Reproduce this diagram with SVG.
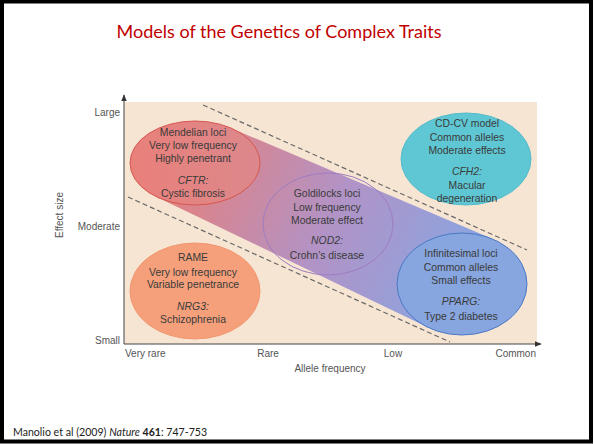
<svg xmlns="http://www.w3.org/2000/svg" width="594" height="444" viewBox="0 0 594 444">
<defs>
<style>
.t{font-family:"Liberation Sans",Arial,sans-serif;font-size:10.4px;fill:#3a3a3a;text-anchor:middle}
.ax{font-family:"Liberation Sans",Arial,sans-serif;font-size:10px;fill:#555}
.i{font-style:italic}
.dash{stroke:#6a6a6a;stroke-width:1.2;stroke-dasharray:5 3;fill:none}
.axis{stroke:#444;stroke-width:1;fill:none}
</style>
<linearGradient id="band" gradientUnits="userSpaceOnUse" x1="195" y1="163" x2="462" y2="284">
<stop offset="0" stop-color="#df8284"/>
<stop offset="0.5" stop-color="#b293c6"/>
<stop offset="1" stop-color="#8aa4e0"/>
</linearGradient>
<linearGradient id="mend" x1="0" y1="0" x2="1" y2="0">
<stop offset="0" stop-color="#e9807a"/>
<stop offset="1" stop-color="#dc888c"/>
</linearGradient>
<marker id="arr" viewBox="0 0 10 10" refX="9" refY="5" markerWidth="7" markerHeight="7" orient="auto" markerUnits="userSpaceOnUse">
<path d="M0,1 L10,5 L0,9 z" fill="#333"/>
</marker>
</defs>
<rect x="0" y="0" width="594" height="444" fill="#fff"/>
<rect x="2" y="1.5" width="589" height="440" fill="none" stroke="#000" stroke-width="4"/>
<text x="279" y="38" font-family="Lato,'Liberation Sans',sans-serif" font-size="18" fill="#c00000" text-anchor="middle">Models of the Genetics of Complex Traits</text>
<text x="13" y="436" font-family="Lato,'Liberation Sans',sans-serif" font-size="10.6" fill="#222">Manolio et al (2009) <tspan font-style="italic">Nature</tspan> <tspan font-weight="bold">461</tspan>: 747-753</text>

<rect x="124" y="102" width="413" height="242" fill="#f7e5d3"/>
<path d="M195,163 L230.7,127.9 L492.9,239.1 L462,284 L428.1,327.5 L156.1,196.7 Z" fill="url(#band)"/>

<g id="connectors">
<line class="dash" x1="203" y1="105" x2="527" y2="250"/>
<line class="dash" x1="128" y1="197" x2="450" y2="342"/>
<line class="axis" x1="124" y1="344" x2="124" y2="95" marker-end="url(#arr)"/>
<line class="axis" x1="124" y1="344" x2="541" y2="344" marker-end="url(#arr)"/>
</g>

<g id="mendelian">
<ellipse cx="195" cy="163" rx="65" ry="42" fill="url(#mend)" stroke="#d65650" stroke-width="1"/>
<text class="t" x="193" y="136">Mendelian loci</text>
<text class="t" x="193" y="149">Very low frequency</text>
<text class="t" x="193" y="162">Highly penetrant</text>
<text class="t i" x="193" y="184">CFTR:</text>
<text class="t" x="193" y="197">Cystic fibrosis</text>
</g>

<g id="rame">
<ellipse cx="195" cy="291" rx="65" ry="48" fill="#f5a07b" stroke="#f0976f" stroke-width="1"/>
<text class="t" x="193" y="261">RAME</text>
<text class="t" x="193" y="276">Very low frequency</text>
<text class="t" x="193" y="288">Variable penetrance</text>
<text class="t i" x="193" y="310">NRG3:</text>
<text class="t" x="193" y="323">Schizophrenia</text>
</g>

<g id="goldilocks">
<ellipse cx="328" cy="224" rx="65" ry="51" fill="none" stroke="#9e7cc1" stroke-width="1"/>
<text class="t" x="327" y="197">Goldilocks loci</text>
<text class="t" x="327" y="211">Low frequency</text>
<text class="t" x="327" y="224">Moderate effect</text>
<text class="t i" x="327" y="244">NOD2:</text>
<text class="t" x="327" y="259">Crohn’s disease</text>
</g>

<g id="cdcv">
<ellipse cx="466" cy="159" rx="65" ry="46" fill="#5fc7d3" stroke="#55bccb" stroke-width="1"/>
<text class="t" x="467" y="127">CD-CV model</text>
<text class="t" x="467" y="141">Common alleles</text>
<text class="t" x="467" y="154">Moderate effects</text>
<text class="t i" x="467" y="175">CFH2:</text>
<text class="t" x="467" y="189">Macular</text>
<text class="t" x="467" y="202">degeneration</text>
</g>

<g id="infinitesimal">
<ellipse cx="462" cy="284" rx="65" ry="51" fill="#87a5de" stroke="#4a78c5" stroke-width="1"/>
<text class="t" x="461" y="257">Infinitesimal loci</text>
<text class="t" x="461" y="271">Common alleles</text>
<text class="t" x="461" y="284">Small effects</text>
<text class="t i" x="461" y="305">PPARG:</text>
<text class="t" x="461" y="320">Type 2 diabetes</text>
</g>

<g id="axis-labels">
<text class="ax" x="120" y="116" text-anchor="end">Large</text>
<text class="ax" x="120" y="230" text-anchor="end">Moderate</text>
<text class="ax" x="120" y="344" text-anchor="end">Small</text>
<text class="ax" x="63" y="215" text-anchor="middle" font-size="9.5" transform="rotate(-90 63 215)">Effect size</text>
<text class="ax" x="125" y="357">Very rare</text>
<text class="ax" x="268" y="357" text-anchor="middle">Rare</text>
<text class="ax" x="393" y="357" text-anchor="middle">Low</text>
<text class="ax" x="536" y="357" text-anchor="end">Common</text>
<text class="ax" x="330" y="372" text-anchor="middle">Allele frequency</text>
</g>
</svg>
